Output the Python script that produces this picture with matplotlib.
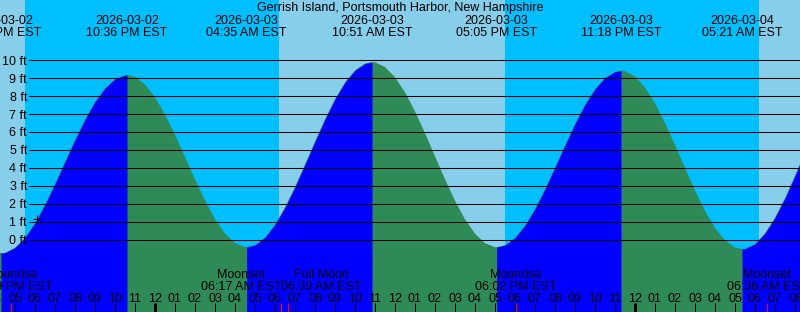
import numpy as np
import pandas as pd
import matplotlib
matplotlib.use("Agg")
import matplotlib.pyplot as plt
import matplotlib.transforms as mtransforms

plt.rcParams['font.family'] = ['Liberation Sans', 'DejaVu Sans']
FS = 9

title = "Gerrish Island, Portsmouth Harbor, New Hampshire"
origin = pd.Timestamp("2026-03-03 00:00")

# high / low tides
event_times = ["2026-03-02 16:18", "2026-03-02 22:36", "2026-03-03 04:35", "2026-03-03 10:51",
               "2026-03-03 17:05", "2026-03-03 23:18", "2026-03-04 05:21"]
event_levels = [-0.73, 9.18, -0.39, 9.90, -0.40, 9.42, -0.50]

# tide level every half hour from 2026-03-02 16:00 (ft)
curve_start = "2026-03-02 16:00"
curve_levels = [-0.67, -0.71, -0.43, 0.13, 0.95, 1.97, 3.12, 4.35, 5.57, 6.70, 7.69, 8.45, 8.96, 9.17,
                9.08, 8.66, 7.94, 6.99, 5.86, 4.63, 3.38, 2.20, 1.17, 0.36, -0.17, -0.39,
                -0.28, 0.14, 0.86, 1.81, 2.95, 4.20, 5.48, 6.72, 7.84, 8.77, 9.44, 9.82,
                9.89, 9.63, 9.06, 8.22, 7.16, 5.95, 4.66, 3.38, 2.19, 1.15, 0.35, -0.18, -0.40,
                -0.29, 0.12, 0.81, 1.73, 2.83, 4.04, 5.27, 6.46, 7.53, 8.40, 9.02, 9.36,
                9.39, 9.10, 8.49, 7.61, 6.52, 5.29, 4.01, 2.76, 1.62, 0.67, -0.02, -0.42,
                -0.49, -0.22, 0.37, 1.24, 2.33, 3.57, 4.88]

# sunset / sunrise
night_start = ["2026-03-02 17:30", "2026-03-03 17:30"]
night_end = ["2026-03-03 06:12", "2026-03-04 06:12"]

# moon
moon_names = ["Moonrise", "Moonset", "Full Moon", "Moonrise", "Moonset"]
moon_times = ["2026-03-02 16:49", "2026-03-03 06:17", "2026-03-03 06:39",
              "2026-03-03 18:02", "2026-03-04 06:36"]

mark_time = "2026-03-02 18:07"
mark_level = 1.17

level_ticks = list(range(0, 11))
first_hour = "2026-03-02 16:00"
last_hour = "2026-03-04 08:00"


def hrs(t):
    return ((pd.to_datetime(t) - origin) / pd.Timedelta(hours=1))


def ampm(t):
    return pd.Timestamp(t).strftime("%I:%M %p") + " EST"


W, H = 800, 312
fig = plt.figure(figsize=(W / 100, H / 100), dpi=100)
ax = fig.add_axes([0, 0, 1, 1])
ax.set_xlim(-155 / 20, (W - 155) / 20)
ax.set_ylim(-72 / 17.97, 240 / 17.97)
ax.axis('off')
ax.add_patch(plt.Rectangle((0, 0), 1, 1, transform=ax.transAxes, color='#87CEEB', zorder=0))

for a, b in zip(night_start, night_end):
    ax.axvspan(hrs(a), hrs(b), color='#00BFFF', lw=0, zorder=1)

# tide curve: green everywhere, blue where the tide is rising
ct = hrs(pd.date_range(curve_start, periods=len(curve_levels), freq="30min")).to_numpy()
et = hrs(event_times).to_numpy()
t = np.concatenate([ct, et])
lev = np.concatenate([curve_levels, event_levels])
order = np.argsort(t)
t, lev = t[order], lev[order]
bottom = -6
ax.fill_between(t, lev, bottom, color='#2E8B57', lw=0, zorder=2)
edges = np.concatenate([[-1e9], et, [1e9]])
for i in range(len(edges) - 1):
    if i < len(et):
        rising = event_levels[i] > 3
    else:
        rising = event_levels[-1] < 3
    if rising:
        m = (t >= edges[i]) & (t <= edges[i + 1])
        ax.fill_between(t[m], lev[m], bottom, color='#0000FF', lw=0, zorder=3)

# level lines
for lv in level_ticks:
    ax.axhline(lv, xmin=29 / W, xmax=1, color='black', lw=0.75, zorder=4)

ylab = mtransforms.blended_transform_factory(ax.transAxes, ax.transData)
for lv in level_ticks:
    ax.text(27 / W, lv - 4.3 / 17.97, f"{lv} ft", transform=ylab, ha='right', va='baseline',
            fontsize=FS, zorder=5)

ax.plot(hrs(mark_time), mark_level, marker='+', color='black', ms=6, mew=0.75, zorder=5)

xt = mtransforms.blended_transform_factory(ax.transData, ax.transAxes)


def fy(p):
    return 1 - p / H


ax.text(0.5, fy(11), title, transform=ax.transAxes, ha='center', va='baseline', fontsize=FS, zorder=6)
for tm in event_times:
    x = hrs(tm)
    ax.text(x, fy(24), pd.Timestamp(tm).strftime("%Y-%m-%d"), transform=xt, ha='center',
            va='baseline', fontsize=FS, zorder=6)
    ax.text(x, fy(36), ampm(tm), transform=xt, ha='center', va='baseline', fontsize=FS, zorder=6)

# hour ticks
for hr in pd.date_range(first_hour, last_hour, freq="h"):
    x = hrs(hr)
    midnight = hr.hour == 0
    ax.plot([x, x], [fy(303), 0], transform=xt, color='black', lw=2.2 if midnight else 0.75,
            solid_capstyle='butt', zorder=6)
    ax.text(x, fy(301.5), hr.strftime("%I"), transform=xt, ha='center', va='baseline',
            fontsize=FS, zorder=7)

# moon events; labels of close events are pushed apart
renderer = fig.canvas.get_renderer()
mx = hrs(moon_times).to_numpy()
for i, (name, tm) in enumerate(zip(moon_names, moon_times)):
    x = mx[i]
    ax.plot([x, x], [fy(303), 0], transform=xt, color='red', lw=0.75, solid_capstyle='butt', zorder=6)
    side = None
    if i + 1 < len(mx) and mx[i + 1] - x < 2:
        x, side = (x + mx[i + 1]) / 2 - 0.15, 'right'
    elif i > 0 and x - mx[i - 1] < 2:
        x, side = (x + mx[i - 1]) / 2 - 0.15, 'left'
    tt = ax.text(x, fy(290), ampm(tm), transform=xt, ha=side or 'center', va='baseline',
                 fontsize=FS, zorder=7)
    if side:
        bb = tt.get_window_extent(renderer)
        x = ax.transData.inverted().transform(((bb.x0 + bb.x1) / 2, 0))[0]
        tt.set_x(x)
        tt.set_ha('center')
    ax.text(x, fy(278), name, transform=xt, ha='center', va='baseline', fontsize=FS, zorder=7)

fig.savefig("out.png", dpi=100)
